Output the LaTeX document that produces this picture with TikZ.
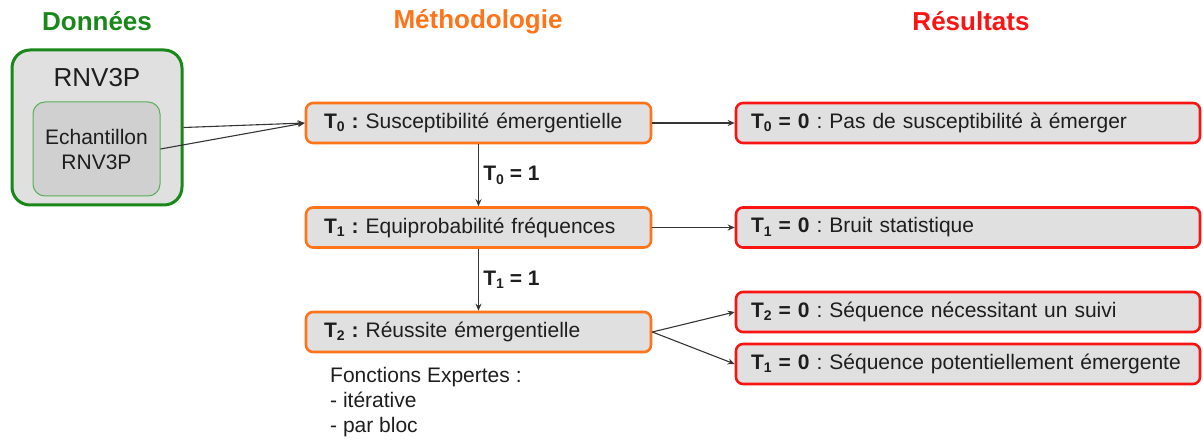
\documentclass[tikz,border=0pt]{standalone}
\usepackage{fontspec}
\setmainfont{Liberation Sans}
\frenchspacing
\usetikzlibrary{arrows.meta}
\definecolor{dgreen}{RGB}{25,135,25}
\definecolor{lgreen}{RGB}{90,175,90}
\definecolor{morange}{RGB}{255,115,25}
\definecolor{mred}{RGB}{250,20,20}
\definecolor{boxgray}{RGB}{224,224,224}
\definecolor{innergray}{RGB}{208,208,208}
\definecolor{txt}{RGB}{30,30,30}
\newcommand{\Tsb}[1]{T\raisebox{-0.3ex}{\fontsize{14}{14}\selectfont #1}}
\tikzset{
  body/.style={font=\fontsize{21}{25}\selectfont\frenchspacing, text=txt},
  title/.style={font=\fontsize{26}{30}\selectfont\bfseries},
  mbox/.style={body, draw=morange, line width=2.6pt, fill=boxgray, rounded corners=7pt,
    text width=309pt, inner xsep=18pt, inner ysep=0pt, minimum height=40pt, align=left},
  rbox/.style={body, draw=mred, line width=2.6pt, fill=boxgray, rounded corners=7pt,
    text width=434pt, inner xsep=15pt, inner ysep=0pt, minimum height=40pt, align=left},
  conn/.style={draw=txt!90, line width=1.1pt, -{Stealth[length=7pt,width=6pt]}},
  lab/.style={font=\fontsize{21}{25}\selectfont\bfseries, text=txt}
}
\begin{document}
\begin{tikzpicture}[x=1pt,y=-1pt]
\useasboundingbox (0,0) rectangle (1203,441);
% titles
\node[title, text=dgreen] (tdon) at (97,21) {Données};
\node[title, text=morange] (tmet) at (478,22) {Méthodologie};
\node[title, text=mred] (tres) at (971,21) {Résultats};
% data boxes
\node[draw=dgreen, line width=3pt, fill=boxgray, rounded corners=18pt,
  minimum width=170pt, minimum height=155pt, inner sep=0pt] (outer) at (97,127.5) {};
\node[body, font=\fontsize{26}{30}\selectfont] (rnv) at (97,78) {RNV3P};
\node[draw=lgreen, line width=1pt, fill=innergray, rounded corners=12pt,
  minimum width=127pt, minimum height=94pt, inner sep=0pt, body, align=center] (inner) at (96.5,149) {Echantillon\\RNV3P};
% methodology
\node[mbox] (t0) at (478.5,123) {\textbf{\Tsb{0}~:} Susceptibilité émergentielle};
\node[mbox] (t1) at (478.5,227.5) {\textbf{\Tsb{1}~:} Equiprobabilité fréquences};
\node[mbox] (t2) at (478.5,332) {\textbf{\Tsb{2}~:} Réussite émergentielle};
\node[body, anchor=north west, align=left, inner sep=0pt] (fe) at (330,367) {Fonctions Expertes :\\- itérative\\- par bloc};
% results
\node[rbox] (r0) at (968,123) {\textbf{\Tsb{0} = 0} : Pas de susceptibilité à émerger};
\node[rbox] (r1) at (968,227.5) {\textbf{\Tsb{1} = 0} : Bruit statistique};
\node[rbox] (r2) at (968,312) {\textbf{\Tsb{2} = 0} : Séquence nécessitant un suivi};
\node[rbox] (r3) at (968,364) {\mbox{\textbf{\Tsb{1} = 0} : Séquence potentiellement émergente}};
% connectors
\draw[conn] (outer.east) -- (t0.west);
\draw[conn] (inner.east) -- (t0.west);
\draw[conn] (t0.east) -- (r0.west);
\draw[conn] (t1.east) -- (r1.west);
\draw[conn] (t2.east) -- (r2.west);
\draw[conn] (t2.east) -- (r3.west);
\draw[conn] (t0.south) -- node[lab, right, xshift=1pt] {\Tsb{0} = 1} (t1.north);
\draw[conn] (t1.south) -- node[lab, right, xshift=1pt] {\Tsb{1} = 1} (t2.north);
\end{tikzpicture}
\end{document}
